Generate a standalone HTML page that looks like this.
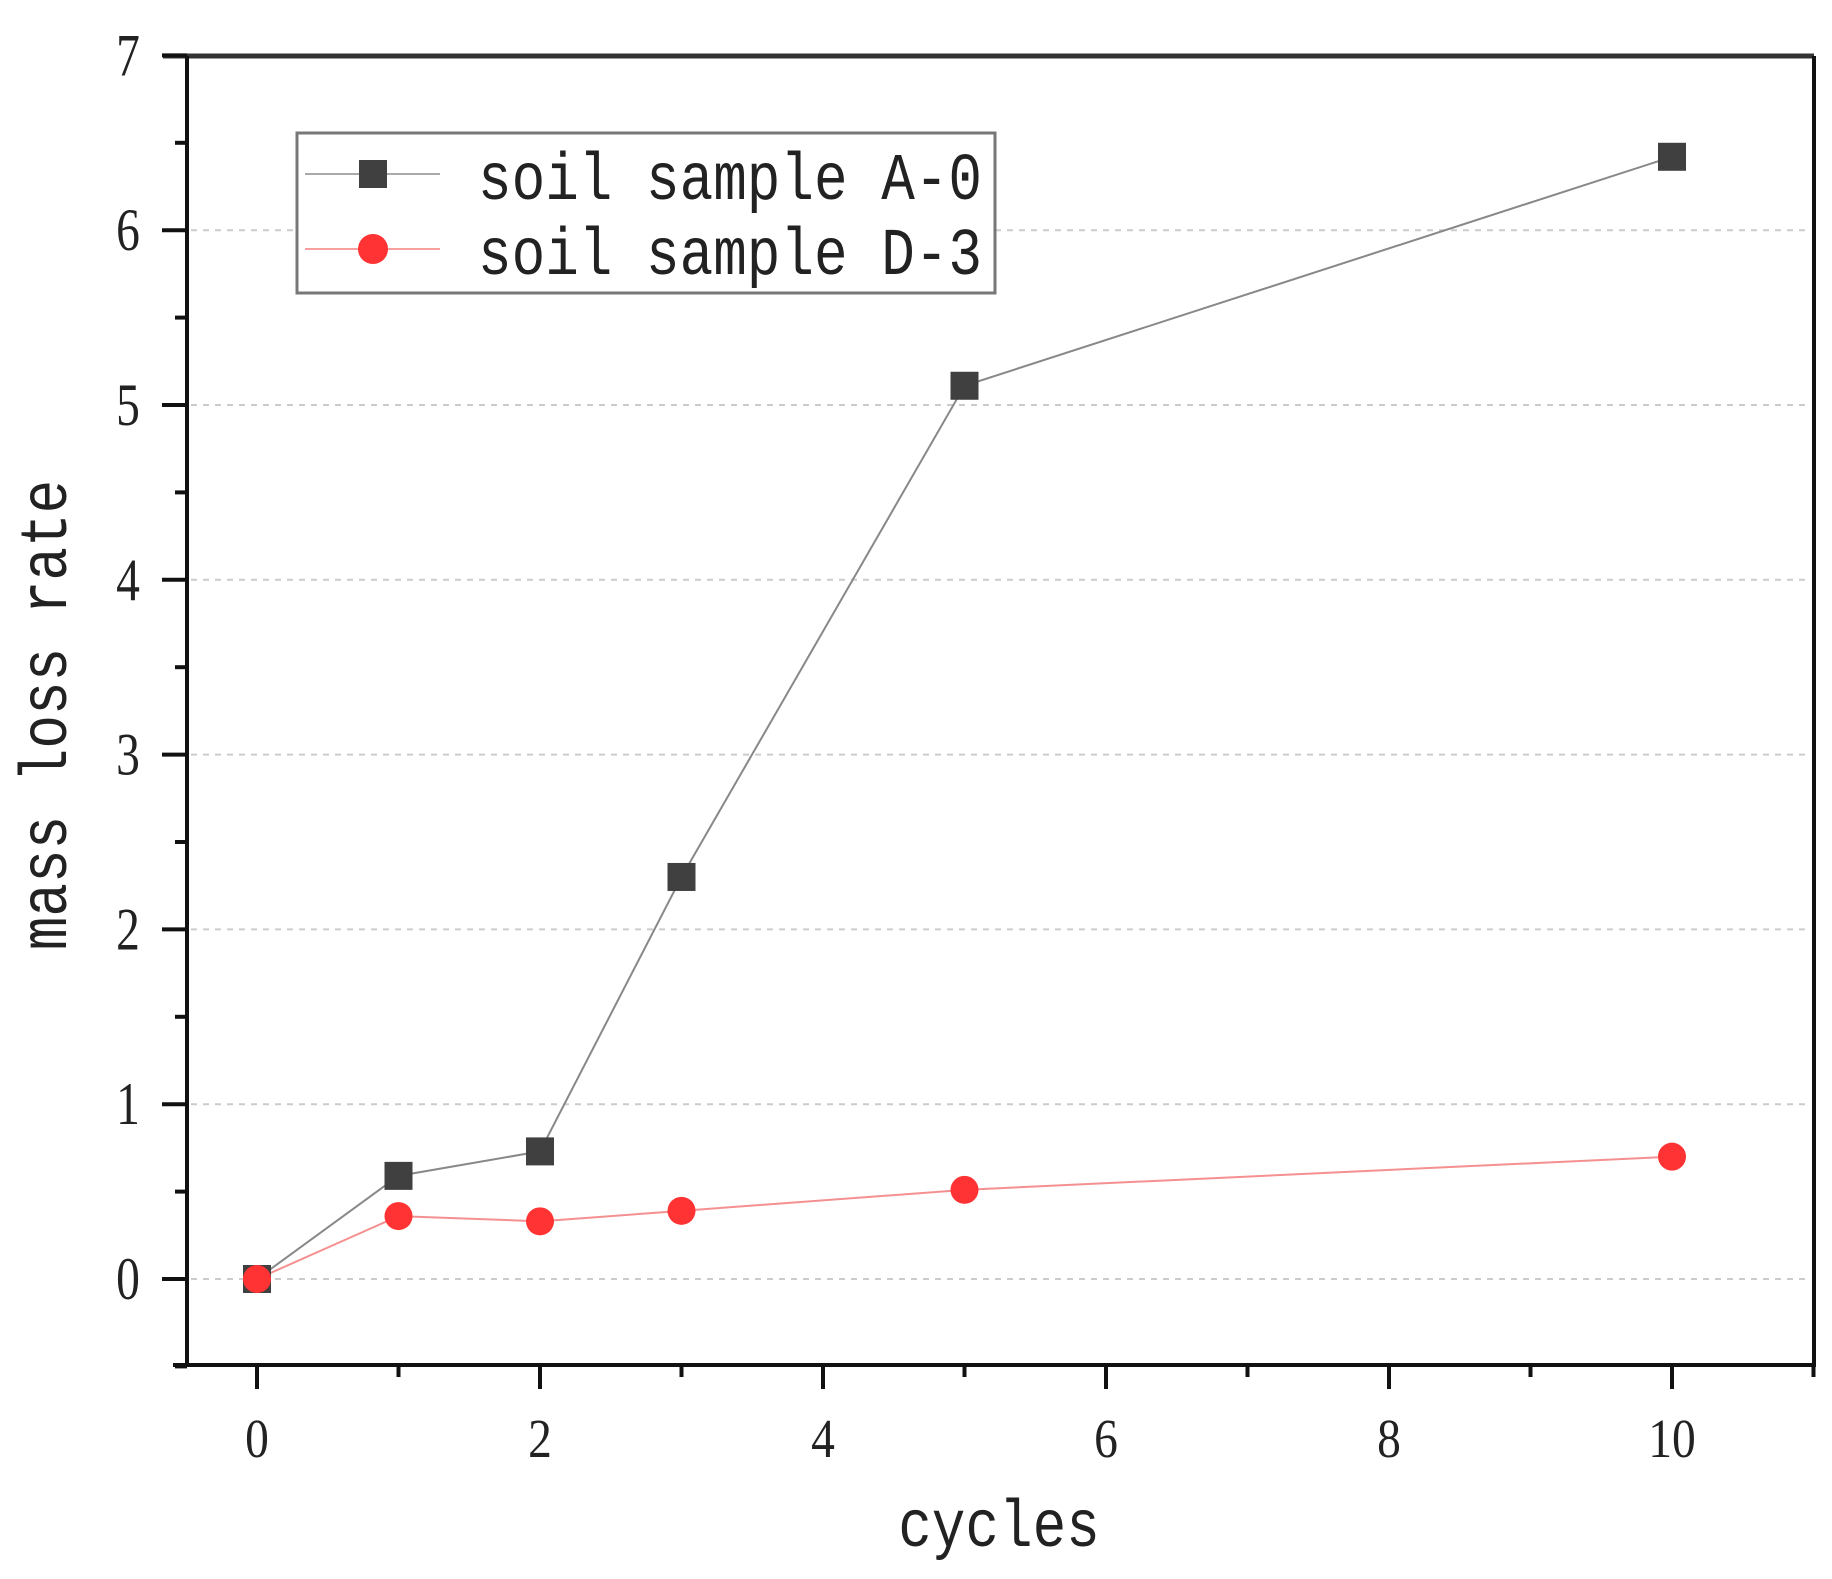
<!DOCTYPE html>
<html><head><meta charset="utf-8"><style>
html,body{margin:0;padding:0;background:#fff;width:1832px;height:1579px;overflow:hidden}
svg{display:block}
</style></head><body>
<svg id="chart" width="1832" height="1579" xmlns="http://www.w3.org/2000/svg">
<g id="grid"></g>
<g id="axes"></g>
<g id="series"></g>
<g id="legend">
  <rect x="297" y="133" width="698" height="160" fill="#fff" stroke="#777" stroke-width="3"/>
  <line x1="305" y1="174" x2="440" y2="174" stroke="#aaa" stroke-width="2"/>
  <rect x="359" y="160" width="28" height="28" fill="#404040"/>
  <text x="0" y="0" font-family="Liberation Mono, monospace" font-size="56" fill="#222" transform="translate(478,199) scale(1,1.2)">soil sample A-0</text>
  <line x1="305" y1="249" x2="440" y2="249" stroke="#f8a0a0" stroke-width="2"/>
  <circle cx="373" cy="249" r="15" fill="#ff3333"/>
  <text x="0" y="0" font-family="Liberation Mono, monospace" font-size="56" fill="#222" transform="translate(478,274) scale(1,1.2)">soil sample D-3</text>
</g>
<text x="0" y="0" text-anchor="middle" font-family="Liberation Mono, monospace" font-size="56" fill="#222" transform="translate(999,1546) scale(1,1.2)">cycles</text>
<text x="0" y="0" text-anchor="middle" font-family="Liberation Mono, monospace" font-size="56" fill="#222" transform="translate(66,715) rotate(-90) scale(1,1.2)">mass loss rate</text>
</svg>
<script>
const cycles=[0,1,2,3,5,10];
const seriesA0=[0,0.59,0.73,2.3,5.11,6.42];
const seriesD3=[0,0.36,0.33,0.39,0.51,0.70];
const xTickLabels=[0,2,4,6,8,10];
const yTickLabels=[0,1,2,3,4,5,6,7];
const NS='http://www.w3.org/2000/svg';
const PL=187,PR=1814,PT=56,PB=1365;
const xs=v=>257+v*141.5;
const ys=v=>1279-v*174.8;
function mk(tag,attrs,parent){const e=document.createElementNS(NS,tag);for(const k in attrs)e.setAttribute(k,attrs[k]);parent.appendChild(e);return e;}
const gridG=document.getElementById('grid'),axesG=document.getElementById('axes'),serG=document.getElementById('series');
yTickLabels.forEach(v=>{if(v<7){const g=mk('line',{x1:PL+4,x2:PR-4,y1:ys(v),y2:ys(v),stroke:'#ccc','stroke-width':2,'stroke-dasharray':'6 6'},gridG);

}});
const topAxis=mk('line',{x1:163,x2:PR,y1:PT,y2:PT,stroke:'#333','stroke-width':5},axesG);


const rightAxis=mk('line',{x1:PR,x2:PR,y1:PT,y2:PB,stroke:'#111','stroke-width':4},axesG);


const leftAxis=mk('line',{x1:PL,x2:PL,y1:PT,y2:PB+2,stroke:'#111','stroke-width':4},axesG);


const bottomAxis=mk('line',{x1:173,x2:PR+2,y1:PB,y2:PB,stroke:'#111','stroke-width':4},axesG);


for(let v=0;v<=11;v++){const major=v%2===0;const t=mk('line',{x1:xs(v),x2:xs(v),y1:PB,y2:PB+(major?24:12),stroke:'#111','stroke-width':4},axesG);

}
xTickLabels.forEach(v=>{const t=mk('text',{x:0,y:0,'text-anchor':'middle','font-family':'Liberation Serif, serif','font-size':50,fill:'#222',transform:`translate(${xs(v)},1457) scale(0.95,1.1)`},axesG);t.textContent=v;

});
for(let v=-0.5;v<=7;v+=0.5){const major=Number.isInteger(v);const t=mk('line',{x1:PL-(major?25:12),x2:PL,y1:ys(v),y2:ys(v),stroke:'#111','stroke-width':4},axesG);

}
yTickLabels.forEach(v=>{const t=mk('text',{x:0,y:0,'text-anchor':'middle','font-family':'Liberation Serif, serif','font-size':50,fill:'#222',transform:`translate(128,${ys(v)+20}) scale(0.95,1.2)`},axesG);t.textContent=v;

});
function drawLine(vals,color,name){const p=mk('polyline',{points:cycles.map((c,i)=>xs(c)+','+ys(vals[i])).join(' '),fill:'none',stroke:color,'stroke-width':2},serG);

}
drawLine(seriesA0,'#888','line-a0');
drawLine(seriesD3,'#f59090','line-d3');
seriesA0.forEach((v,i)=>{const r=mk('rect',{x:xs(cycles[i])-14,y:ys(v)-14,width:28,height:28,fill:'#404040'},serG);

});
seriesD3.forEach((v,i)=>{const c=mk('circle',{cx:xs(cycles[i]),cy:ys(v),r:14,fill:'#ff3333'},serG);

});
</script>
</body></html>
